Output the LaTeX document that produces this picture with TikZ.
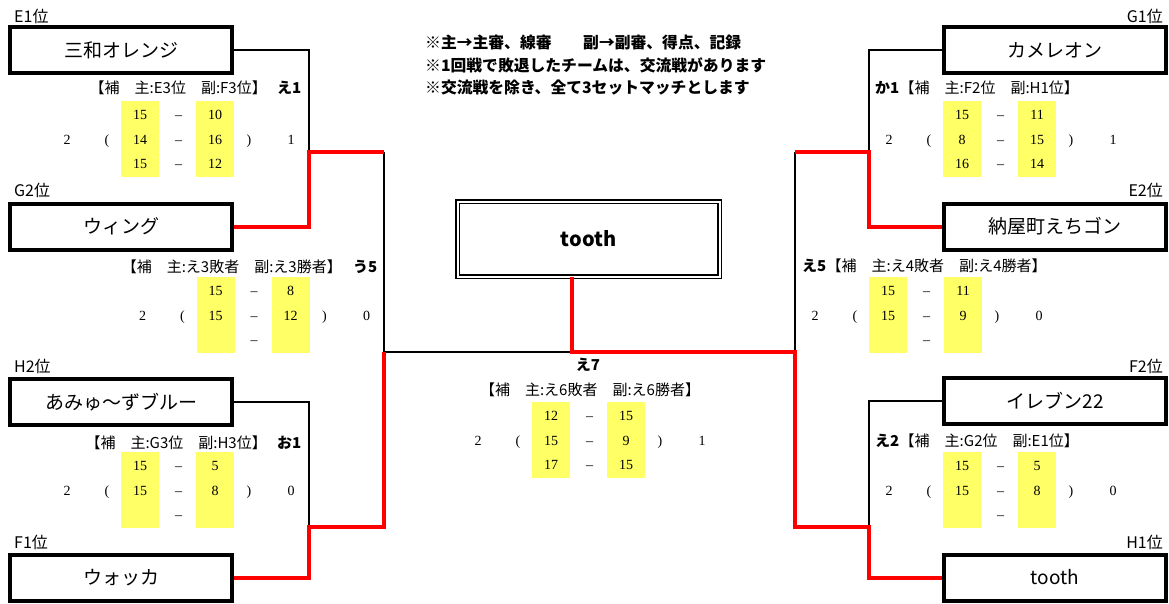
\documentclass[tikz,border=0pt]{standalone}
\usepackage{fontspec}
\setmainfont{Liberation Serif}
\newfontfamily\jp{Noto Sans CJK JP}
\usetikzlibrary{positioning}
\definecolor{setfill}{RGB}{255,255,102}
\tikzstyle{team} = [rectangle, draw, line width=4pt, minimum width=222pt, minimum height=46pt, font=\jp\fontsize{19}{22}\selectfont]
\tikzstyle{final} = [rectangle, draw, double, double distance=2pt, line width=1.2pt, minimum width=262pt, minimum height=75pt, font=\jp\bfseries\fontsize{20}{24}\selectfont]
\tikzstyle{seed} = [font=\jp\fontsize{16}{18}\selectfont, inner sep=0pt]
\tikzstyle{header} = [font=\jp\fontsize{15}{17}\selectfont, inner sep=0pt]
\tikzstyle{tag} = [font=\jp\bfseries\fontsize{15}{17}\selectfont, inner sep=0pt]
\tikzstyle{note} = [font=\jp\bfseries\fontsize{15.8}{18}\selectfont, inner sep=0pt, anchor=west]
\tikzstyle{setcol} = [rectangle, fill=setfill, minimum width=38pt, minimum height=76pt, inner sep=0pt]
\tikzstyle{score} = [font=\fontsize{14}{16}\selectfont, inner sep=0pt, text height=9.5pt, text depth=0pt]
\tikzstyle{loser} = [line width=1.5pt]
\tikzstyle{winner} = [line width=4pt, red]
\newcommand{\scoreblock}[6]{%
  \node (#1y1) [setcol, anchor=north] at (#2,#3) {};
  \node (#1y2) [setcol, anchor=north] at (#2+75,#3) {};
  \node (#1l) [score] at (#2-73,#3+38.5) {#4};
  \node (#1o) [score] at (#2-33,#3+38.5) {(};
  \node (#1c) [score] at (#2+109,#3+38.5) {)};
  \node (#1r) [score] at (#2+151,#3+38.5) {#5};
  \foreach \a/\b [count=\k] in {#6} {
    \node (#1a\k) [score] at (#2,#3-10.5+24.5*\k) {\a};
    \node (#1d\k) [score] at (#2+38.5,#3-10.5+24.5*\k) {--};
    \node (#1b\k) [score] at (#2+75,#3-10.5+24.5*\k) {\b};
  }%
}
\begin{document}
\begin{tikzpicture}[x=1pt, y=-1pt]
            \useasboundingbox (0,0) rectangle (1169,604);
            % teams, left side
            \node (e1) [team] at (121,50) {三和オレンジ};
            \node (g2) [team] at (121,226.5) {ウィング};
            \node (h2) [team] at (121,402) {あみゅ～ずブルー};
            \node (f1) [team] at (121,577.5) {ウォッカ};
            \node (e1s) [seed, anchor=west] at (14,16) {E1位};
            \node (g2s) [seed, anchor=west] at (14,190) {G2位};
            \node (h2s) [seed, anchor=west] at (14,366) {H2位};
            \node (f1s) [seed, anchor=west] at (14,542) {F1位};
            % teams, right side
            \node (g1) [team] at (1055,50) {カメレオン};
            \node (e2) [team] at (1055,226.5) {納屋町えちゴン};
            \node (f2) [team] at (1055,401) {イレブン22};
            \node (h1) [team] at (1055,577.5) {tooth};
            \node (g1s) [seed, anchor=east] at (1163,16) {G1位};
            \node (e2s) [seed, anchor=east] at (1163,190) {E2位};
            \node (f2s) [seed, anchor=east] at (1163,366) {F2位};
            \node (h1s) [seed, anchor=east] at (1163,542) {H1位};
            % champion
            \node (champ) [final] at (588.5,239) {tooth};
            % notes
            \node (n1) [note] at (425,42) {※主→主審、線審　　副→副審、得点、記録};
            \node (n2) [note] at (425,65) {※1回戦で敗退したチームは、交流戦があります};
            \node (n3) [note] at (425,88) {※交流戦を除き、全て3セットマッチとします};
            % match headers
            \node (lu) [header, anchor=east] at (267,88) {【補　主:E3位　副:F3位】};
            \node (lut) [tag, anchor=west] at (277,88) {え1};
            \node (lm) [header, anchor=east] at (342,267) {【補　主:え3敗者　副:え3勝者】};
            \node (lmt) [tag, anchor=west] at (353,267) {う5};
            \node (ll) [header, anchor=east] at (267,443) {【補　主:G3位　副:H3位】};
            \node (llt) [tag, anchor=west] at (277,443) {お1};
            \node (rut) [tag, anchor=west] at (875,88) {か1};
            \node (ru) [header, right=0pt of rut] {【補　主:F2位　副:H1位】};
            \node (rmt) [tag, anchor=west] at (802,266) {え5};
            \node (rm) [header, right=0pt of rmt] {【補　主:え4敗者　副:え4勝者】};
            \node (rlt) [tag, anchor=west] at (875,441) {え2};
            \node (rl) [header, right=0pt of rlt] {【補　主:G2位　副:E1位】};
            \node (ct) [tag] at (588,365) {え7};
            \node (cm) [header] at (590,390) {【補　主:え6敗者　副:え6勝者】};
            % scores
            \scoreblock{lu}{140}{101}{2}{1}{15/10,14/16,15/12}
            \scoreblock{lm}{215.5}{277}{2}{0}{15/8,15/12,{}/{}}
            \scoreblock{ll}{140}{452}{2}{0}{15/5,15/8,{}/{}}
            \scoreblock{ru}{962}{101}{2}{1}{15/11,8/15,16/14}
            \scoreblock{rm}{888}{277}{2}{0}{15/11,15/9,{}/{}}
            \scoreblock{rl}{962}{452}{2}{0}{15/5,15/8,{}/{}}
            \scoreblock{cm}{551}{402}{2}{1}{12/15,15/9,17/15}
            % bracket
            \coordinate (q1) at (309,152);
            \coordinate (q1r) at (384,152);
            \coordinate (q2) at (309,527);
            \coordinate (q2r) at (384,527);
            \coordinate (s1) at (384,352);
            \coordinate (fin) at (572,352);
            \coordinate (q3) at (869,152);
            \coordinate (q3l) at (795,152);
            \coordinate (q4) at (869,527);
            \coordinate (q4l) at (795,527);
            \coordinate (s2) at (795,352);
            \draw [loser] (e1.east) -| (q1);
            \draw [loser] (h2.east) -| (q2);
            \draw [loser] (q1r) -- (s1) -- (fin);
            \draw [loser] (g1.west) -| (q3);
            \draw [loser] (f2.west) -| (q4);
            \draw [loser] (q3l) -- (s2);
            \draw [winner] (g2.east) -| (q1) -- (q1r);
            \draw [winner] (f1.east) -| (q2) -- (q2r) -- (s1);
            \draw [winner] (e2.west) -| (q3) -- (q3l);
            \draw [winner] (h1.west) -| (q4) -- (q4l) -- (s2) -- (fin) -- (fin |- champ.south);
        \end{tikzpicture}
\end{document}
